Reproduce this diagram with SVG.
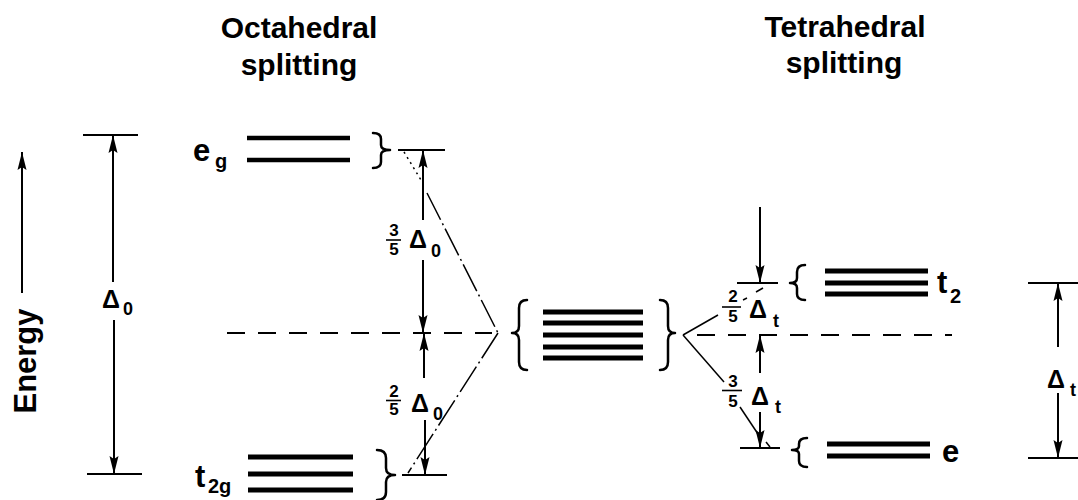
<svg xmlns="http://www.w3.org/2000/svg" width="1078" height="500" viewBox="0 0 1078 500">
<defs>
<style>
text{font-family:"Liberation Sans",Arial,sans-serif;font-weight:bold;fill:#000}
.title{font-size:30px;text-anchor:middle}
.big{font-size:31px}
.sub{font-size:20px}
.delta{font-size:25px}
.dsub{font-size:18px}
.frac{font-size:17px;text-anchor:middle}
.bar{stroke:#000;stroke-width:5;stroke-linecap:butt}
.bar4{stroke:#000;stroke-width:4.5}
.tick{stroke:#000;stroke-width:2}
.fbar{stroke:#000;stroke-width:1.6}
.arrow{stroke:#000;stroke-width:2;fill:none;marker-end:url(#ah)}
.brace{stroke:#000;stroke-width:2.5;fill:none;stroke-linecap:round;stroke-linejoin:round}
.dash{stroke:#000;stroke-width:2;stroke-dasharray:18 13;fill:none}
.thin{stroke:#000;stroke-width:1.5;fill:none}
.dashdot{stroke:#000;stroke-width:1.5;fill:none;stroke-dasharray:30 4 2 4}
.dots{stroke:#000;stroke-width:1.5;fill:none;stroke-dasharray:2 4}
</style>
<marker id="ah" viewBox="0 0 18 10" refX="18" refY="5" markerUnits="userSpaceOnUse" markerWidth="18" markerHeight="10" orient="auto">
<path d="M0,0.5 L18,5 L0,9.5 L3,5 z" fill="#000"/>
</marker>
</defs>
<rect width="1078" height="500" fill="#fff"/>

<g id="title-octahedral">
<text class="title" x="299" y="38">Octahedral</text>
<text class="title" x="299" y="75">splitting</text>
</g>
<g id="title-tetrahedral">
<text class="title" x="845" y="37">Tetrahedral</text>
<text class="title" x="844" y="73">splitting</text>
</g>

<g id="energy-axis">
<line class="arrow" x1="22" y1="293" x2="22" y2="152"/>
<text font-size="31" text-anchor="middle" transform="translate(36,361) rotate(-90)">Energy</text>
</g>

<g id="level-eg">
<line class="bar4" x1="247" y1="138" x2="350" y2="138"/>
<line class="bar4" x1="247" y1="160" x2="350" y2="160"/>
<text class="big" x="193" y="161">e</text>
<text class="sub" x="215" y="168">g</text>
<path class="brace" d="M373,133 Q381,133 381,139 L381,145 Q381,150 390,150 Q381,150 381,155 L381,162 Q381,168 373,168"/>
</g>

<g id="level-t2g">
<line class="bar" x1="248" y1="457" x2="353" y2="457"/>
<line class="bar" x1="248" y1="474" x2="353" y2="474"/>
<line class="bar" x1="248" y1="490" x2="353" y2="490"/>
<text class="big" x="195" y="487">t</text>
<text class="sub" x="208" y="493">2g</text>
<path class="brace" d="M377,450 Q386,450 386,458 L386,468 Q386,475 395,475 Q386,475 386,482 L386,492 Q386,500 377,500"/>
</g>

<g id="level-free-ion">
<path class="brace" d="M527,300 Q519,300 519,308 L519,326 Q519,333 512,333 Q519,333 519,340 L519,362 Q519,370 527,370"/>
<line class="bar" x1="543" y1="312" x2="643" y2="312"/>
<line class="bar" x1="543" y1="323" x2="643" y2="323"/>
<line class="bar" x1="543" y1="335" x2="643" y2="335"/>
<line class="bar" x1="543" y1="347" x2="643" y2="347"/>
<line class="bar" x1="543" y1="358" x2="643" y2="358"/>
<path class="brace" d="M660,300 Q668,300 668,308 L668,326 Q668,333 675,333 Q668,333 668,340 L668,362 Q668,370 660,370"/>
</g>

<g id="level-t2">
<path class="brace" d="M805,265 Q797,265 797,272 L797,278 Q797,283 790,283 Q797,283 797,288 L797,294 Q797,300 805,300"/>
<line class="bar" x1="825" y1="271" x2="928" y2="271"/>
<line class="bar" x1="825" y1="283" x2="928" y2="283"/>
<line class="bar" x1="825" y1="294" x2="928" y2="294"/>
<text class="big" x="937" y="293">t</text>
<text class="sub" x="950" y="303">2</text>
</g>

<g id="level-e">
<path class="brace" d="M807,438 Q799,438 799,444 L799,446 Q799,450 792,450 Q799,450 799,454 L799,461 Q799,467 807,467"/>
<line class="bar" x1="827" y1="444" x2="930" y2="444"/>
<line class="bar" x1="827" y1="456" x2="930" y2="456"/>
<text class="big" x="942" y="462">e</text>
</g>

<g id="connectors">
<line class="dash" x1="227" y1="333" x2="492" y2="333"/>
<line class="dash" x1="697" y1="335" x2="952" y2="335"/>

<line class="tick" x1="83" y1="135" x2="138" y2="135"/>
<line class="tick" x1="87" y1="474" x2="142" y2="474"/>
<line class="arrow" x1="113" y1="282" x2="113" y2="135"/>
<line class="arrow" x1="114" y1="320" x2="114" y2="474"/>
<text class="delta" x="102" y="308">Δ</text>
<text class="dsub" x="123" y="315">0</text>

<line class="tick" x1="398" y1="150" x2="445" y2="150"/>
<line class="tick" x1="402" y1="475" x2="447" y2="475"/>
<line class="arrow" x1="423" y1="220" x2="423" y2="150"/>
<line class="arrow" x1="423" y1="260" x2="423" y2="333"/>
<line class="arrow" x1="424" y1="378" x2="424" y2="333"/>
<line class="arrow" x1="425" y1="420" x2="425" y2="475"/>
<text class="frac" x="394" y="236">3</text>
<line class="fbar" x1="386" y1="240" x2="401" y2="240"/>
<text class="frac" x="394" y="255">5</text>
<text class="delta" x="409" y="248">Δ</text>
<text class="dsub" x="431" y="257">0</text>
<text class="frac" x="394" y="397">2</text>
<line class="fbar" x1="386" y1="400.5" x2="401" y2="400.5"/>
<text class="frac" x="394" y="415">5</text>
<text class="delta" x="411" y="412">Δ</text>
<text class="dsub" x="433" y="420">0</text>

<line class="dots" x1="404" y1="152" x2="421" y2="180"/>
<line class="dashdot" x1="427" y1="193" x2="498" y2="333"/>
<line class="dashdot" x1="498" y1="333" x2="408" y2="473"/>

<line class="thin" x1="683" y1="335" x2="718" y2="315"/>
<line class="thin" x1="743" y1="300" x2="747" y2="298"/>
<line class="thin" x1="756" y1="292" x2="763" y2="288"/>
<line class="thin" x1="683" y1="335" x2="724" y2="382"/>
<line class="thin" x1="740" y1="407" x2="760" y2="437"/>
<line class="thin" x1="766" y1="442" x2="770" y2="447"/>

<line class="tick" x1="737" y1="283" x2="778" y2="283"/>
<line class="tick" x1="740" y1="448" x2="780" y2="448"/>
<line class="arrow" x1="760" y1="207" x2="760" y2="283"/>
<line class="arrow" x1="760" y1="373" x2="760" y2="335"/>
<line class="arrow" x1="760" y1="412" x2="760" y2="448"/>
<text class="frac" x="733" y="302">2</text>
<line class="fbar" x1="722" y1="307" x2="741" y2="307"/>
<text class="frac" x="733" y="322">5</text>
<text class="delta" x="749" y="318">Δ</text>
<text class="dsub" x="773" y="327">t</text>
<text class="frac" x="733" y="387">3</text>
<line class="fbar" x1="722" y1="390.5" x2="742" y2="390.5"/>
<text class="frac" x="733" y="407">5</text>
<text class="delta" x="751" y="405">Δ</text>
<text class="dsub" x="775" y="413">t</text>

<line class="tick" x1="1028" y1="283" x2="1078" y2="283"/>
<line class="tick" x1="1028" y1="458" x2="1078" y2="458"/>
<line class="arrow" x1="1058" y1="347" x2="1058" y2="283"/>
<line class="arrow" x1="1058" y1="393" x2="1058" y2="458"/>
<text class="delta" x="1047" y="388">Δ</text>
<text class="dsub" x="1070" y="396">t</text>
</g>
</svg>
